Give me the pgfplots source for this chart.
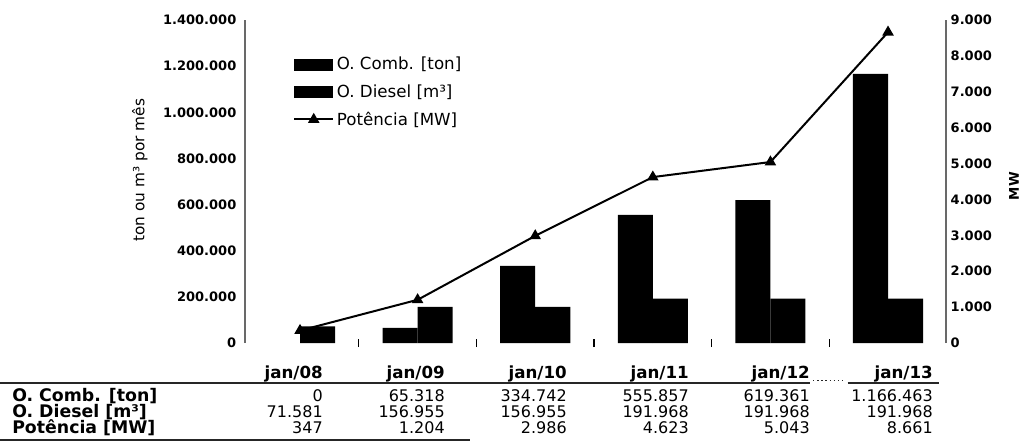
\documentclass[border=0pt]{standalone}
\usepackage{pgfplots}
\pgfplotsset{compat=1.18}
\usepackage{fontspec}
\setmainfont{DejaVu Sans}

\definecolor{axisgray}{RGB}{105,105,105}

% monthly consumption of fuel oil and diesel, and installed power
\pgfplotsset{
  common/.style={
    width=525.75pt, height=242.25pt, scale only axis,
    xmin=-0.468, xmax=5.493, ymin=0,
    clip=false,
    tick label style={font=\bfseries\fontsize{9.75}{11}\selectfont},
    /pgf/number format/assume math mode=true,
    /pgf/number format/fixed,
    /pgf/number format/1000 sep={.},
    scaled y ticks=false,
    ytick style={draw=none},
    label style={font=\fontsize{11.5}{13}\selectfont},
  },
  bar swatch/.style={legend image code/.code={%
    \fill[black] (0pt,-4.5pt) rectangle (29.25pt,4.5pt);}},
  wide line legend/.style={legend image code/.code={%
    \draw[mark repeat=2,mark phase=2,##1] plot coordinates {(0pt,0pt) (14.6pt,0pt) (29.25pt,0pt)};}},
}

\begin{document}
\begin{tikzpicture}
\path[use as bounding box] (-183.75pt,-75.75pt) rectangle (585pt,257.25pt);

% left axis: tonnes or cubic metres per month
\begin{axis}[common,
  ymax=1400000, ytick={0,200000,...,1400000},
  axis x line*=bottom, axis y line*=left,
  x axis line style={draw=none},
  y axis line style={-, axisgray, line width=1.5pt},
  xtick={0.5,1.5,2.5,3.5,4.5}, xticklabels=\empty,
  xtick style={black, line width=0.8pt},
  major tick length=6pt, tick align=center,
  ylabel={ton ou m³ por mês},
  ylabel style={at={(axis description cs:-0.150,0.535)}, anchor=center},
  legend style={at={(axis description cs:0.0685,0.894)}, anchor=north west,
    draw=none, fill=none, inner sep=0pt, row sep=5.5pt,
    nodes={inner sep=2pt},
    font=\fontsize{12.5}{15}\selectfont},
  legend cell align=left,
]
\addplot[ybar, bar width=0.298, bar shift=-0.149, fill=black, draw=none, bar swatch]
  coordinates {(1,65318) (2,334742) (3,555857) (4,619361) (5,1166463)};
\addlegendentry{O. Comb. [ton]}
\addplot[ybar, bar width=0.298, bar shift=0.149, fill=black, draw=none, bar swatch]
  coordinates {(0,71581) (1,156955) (2,156955) (3,191968) (4,191968) (5,191968)};
\addlegendentry{O. Diesel [m³]}
\addlegendimage{wide line legend, black, line width=1.5pt, mark=triangle*, mark size=3.5pt}
\addlegendentry{Potência [MW]}
\end{axis}

% right axis: power in MW
\begin{axis}[common,
  ymax=9000, ytick={0,1000,...,9000},
  axis y line*=right, axis x line=none,
  y axis line style={-, axisgray, line width=1.5pt},
  ylabel={MW},
  ylabel style={at={(axis description cs:1.097,0.486)}, anchor=center,
    font=\bfseries\fontsize{10}{12}\selectfont},
]
\addplot[black, line width=1.5pt, mark=triangle*, mark size=3.5pt]
  coordinates {(0,347) (1,1204) (2,2986) (3,4623) (4,5043) (5,8661)};
\end{axis}

% data table below the chart
\begin{scope}[every node/.style={inner sep=0pt}]
  \foreach \x/\t in {58.5/jan\slash 08, 150/jan\slash 09, 241.5/jan\slash 10,
                     333/jan\slash 11, 423.75/jan\slash 12, 516/jan\slash 13}
    \node[anchor=base east, font=\bfseries\fontsize{12.5}{14}\selectfont] at (\x pt,-26.25pt) {\t};
  \draw[black!85, line width=1.1pt] (-183.75pt,-30pt) -- (423.75pt,-30pt);
  \draw[black!85, line width=1.1pt, dotted] (426pt,-28pt) -- (450pt,-28pt);
  \draw[black!85, line width=1.1pt] (452pt,-30pt) -- (520.5pt,-30pt);

  \node[anchor=base west, font=\bfseries\fontsize{13}{15}\selectfont] at (-174.75pt,-43.5pt) {O. Comb. [ton]};
  \node[anchor=base west, font=\bfseries\fontsize{13}{15}\selectfont] at (-174.75pt,-55.5pt) {O. Diesel [m³]};
  \node[anchor=base west, font=\bfseries\fontsize{13}{15}\selectfont] at (-174.75pt,-67.5pt) {Potência [MW]};

  \foreach \x/\a/\b/\c in {58.5/0/71.581/347, 150/65.318/156.955/1.204,
                           241.5/334.742/156.955/2.986, 333/555.857/191.968/4.623,
                           423.75/619.361/191.968/5.043, 516/1.166.463/191.968/8.661} {
    \node[anchor=base east, font=\fontsize{12}{14}\selectfont] at (\x pt,-43.5pt) {\a};
    \node[anchor=base east, font=\fontsize{12}{14}\selectfont] at (\x pt,-55.5pt) {\b};
    \node[anchor=base east, font=\fontsize{12}{14}\selectfont] at (\x pt,-67.5pt) {\c};
  }
  \draw[black!85, line width=1.1pt] (-183.75pt,-72.75pt) -- (168.75pt,-72.75pt);
\end{scope}
\end{tikzpicture}
\end{document}
